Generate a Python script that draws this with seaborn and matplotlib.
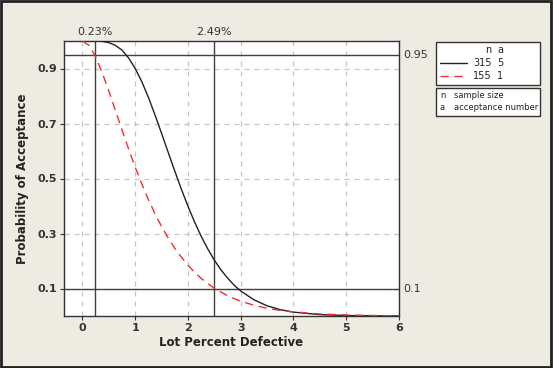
import pandas as pd
import numpy as np
import matplotlib.pyplot as plt
import seaborn as sns
from matplotlib.lines import Line2D
from matplotlib.patches import Rectangle

# lot percent defective
pct = [0, 0.125, 0.25, 0.375, 0.5, 0.625, 0.75, 0.875, 1.0, 1.125, 1.25,
       1.375, 1.5, 1.625, 1.75, 1.875, 2.0, 2.125, 2.25, 2.375, 2.5, 2.625,
       2.75, 2.875, 3.0, 3.25, 3.5, 3.75, 4.0, 4.5, 5.0, 5.5, 6.0]

# probability of acceptance, plan n=315 a=5 (black)
pa_315 = [1.0, 1.0, 1.0, 0.9987, 0.994, 0.984, 0.967, 0.938, 0.900, 0.852,
          0.795, 0.731, 0.664, 0.595, 0.527, 0.461, 0.399, 0.342, 0.290,
          0.244, 0.203, 0.168, 0.138, 0.112, 0.091, 0.059, 0.037, 0.023,
          0.014, 0.005, 0.0017, 0.0005, 0.0002]

# probability of acceptance, plan n=155 a=1 (red dashed)
pa_155 = [1.0, 0.984, 0.942, 0.884, 0.818, 0.747, 0.676, 0.607, 0.541, 0.480,
          0.423, 0.372, 0.325, 0.284, 0.246, 0.214, 0.185, 0.159, 0.137,
          0.118, 0.101, 0.087, 0.074, 0.063, 0.054, 0.039, 0.028, 0.020,
          0.015, 0.0075, 0.0038, 0.0019, 0.0009]

sample_n = ["315", "155"]
accept_a = ["5", "1"]
plans = [f"{n} {a}" for n, a in zip(sample_n, accept_a)]

aql_pct = 0.23
rql_pct = 2.49
pa_hi = 0.95
pa_lo = 0.1

x_ticks = [0, 1, 2, 3, 4, 5, 6]
y_ticks = [0.1, 0.3, 0.5, 0.7, 0.9]

df = pd.DataFrame({
    "pct": pct + pct,
    "pa": pa_315 + pa_155,
    "plan": [plans[0]] * len(pct) + [plans[1]] * len(pct),
})

bg = "#EEEBE3"
colors = ["#222222", "#F03030"]
sns.set_style("white")
plt.rcParams["font.family"] = ["DejaVu Sans"]

W, H = 553, 368
fig = plt.figure(figsize=(5.53, 3.68), dpi=100, facecolor=bg)
ax = fig.add_axes([64 / W, 1 - 316 / H, 335 / W, 275 / H])
ax.set_facecolor("white")


def fx(px):
    return px / W


def fy(py):
    return 1 - py / H


# grid
for t in x_ticks:
    ax.axvline(t, color="#C4C4C4", lw=0.9, ls=(0, (4, 4)), zorder=0)
for t in y_ticks:
    ax.axhline(t, color="#C4C4C4", lw=0.9, ls=(0, (4, 4)), zorder=0)

# reference lines
for v in (aql_pct, rql_pct):
    ax.axvline(v, color="#404040", lw=1.0, zorder=1)
for h in (pa_hi, pa_lo):
    ax.axhline(h, color="#404040", lw=1.0, zorder=1)

sns.lineplot(data=df, x="pct", y="pa", hue="plan", style="plan",
             palette=colors, dashes=[(None, None), (6, 4)],
             linewidth=1.0, ax=ax, legend=False, zorder=3)
ax.lines[-1].set_dashes((6, 4))

ax.set_xlim(-0.35, 6)
ax.set_ylim(0, 1.0)
ax.set_xticks(x_ticks)
ax.set_yticks(y_ticks)
ax.set_xticklabels([str(t) for t in x_ticks])
ax.set_yticklabels([str(t) for t in y_ticks])
ax.tick_params(axis="both", labelsize=8, length=3, color="#333333",
               labelcolor="#333333", pad=2, direction="out")
ax.tick_params(left=True, bottom=True)
for lbl in ax.get_xticklabels() + ax.get_yticklabels():
    lbl.set_fontweight("bold")
for s in ax.spines.values():
    s.set_color("#333333")
    s.set_linewidth(1.0)

ax.set_xlabel("Lot Percent Defective", fontsize=8.5, fontweight="bold",
              color="#222222", labelpad=2)
ax.set_ylabel("Probability of Acceptance", fontsize=8.5, fontweight="bold",
              color="#222222", labelpad=6)

# labels of reference lines
for v in (aql_pct, rql_pct):
    ax.text(v, 1.015, f"{v:.2f}%", ha="center", va="bottom", fontsize=8,
            color="#333333", transform=ax.get_xaxis_transform())
for h in (pa_hi, pa_lo):
    ax.text(1.012, h, f"{h}", ha="left", va="center", fontsize=8,
            color="#333333", transform=ax.get_yaxis_transform())

# legend box with plans
fig.patches.append(Rectangle((fx(436), fy(85)), fx(540) - fx(436), fy(42) - fy(85),
                             transform=fig.transFigure, fc="white", ec="#333333", lw=1.0))
fig.text(fx(491), fy(50), "n", fontsize=7, ha="right", va="center", color="#222222")
fig.text(fx(497), fy(50), "a", fontsize=7, ha="left", va="center", color="#222222")
for i, (n, a) in enumerate(zip(sample_n, accept_a)):
    py = 63 + 13 * i
    ln = Line2D([fx(440), fx(467)], [fy(py), fy(py)], transform=fig.transFigure,
                color=colors[i], lw=1.0)
    if i == 1:
        ln.set_dashes((6, 4))
    fig.lines.append(ln)
    fig.text(fx(492), fy(py), n, fontsize=7, ha="right", va="center", color="#222222")
    fig.text(fx(497), fy(py), a, fontsize=7, ha="left", va="center", color="#222222")

# legend box with definitions
fig.patches.append(Rectangle((fx(436), fy(116)), fx(540) - fx(436), fy(88) - fy(116),
                             transform=fig.transFigure, fc="white", ec="#333333", lw=1.0))
fig.text(fx(440), fy(96), "n", fontsize=6, ha="left", va="center", color="#222222")
fig.text(fx(454), fy(96), "sample size", fontsize=6, ha="left", va="center", color="#222222")
fig.text(fx(440), fy(108), "a", fontsize=6, ha="left", va="center", color="#222222")
fig.text(fx(454), fy(108), "acceptance number", fontsize=6, ha="left", va="center",
         color="#222222")

# outer frame
fig.patches.append(Rectangle((0.002, 0.003), 0.995, 0.994, transform=fig.transFigure,
                             fill=False, ec="#222222", lw=2.0))

fig.savefig("out.png", dpi=100, facecolor=bg)
